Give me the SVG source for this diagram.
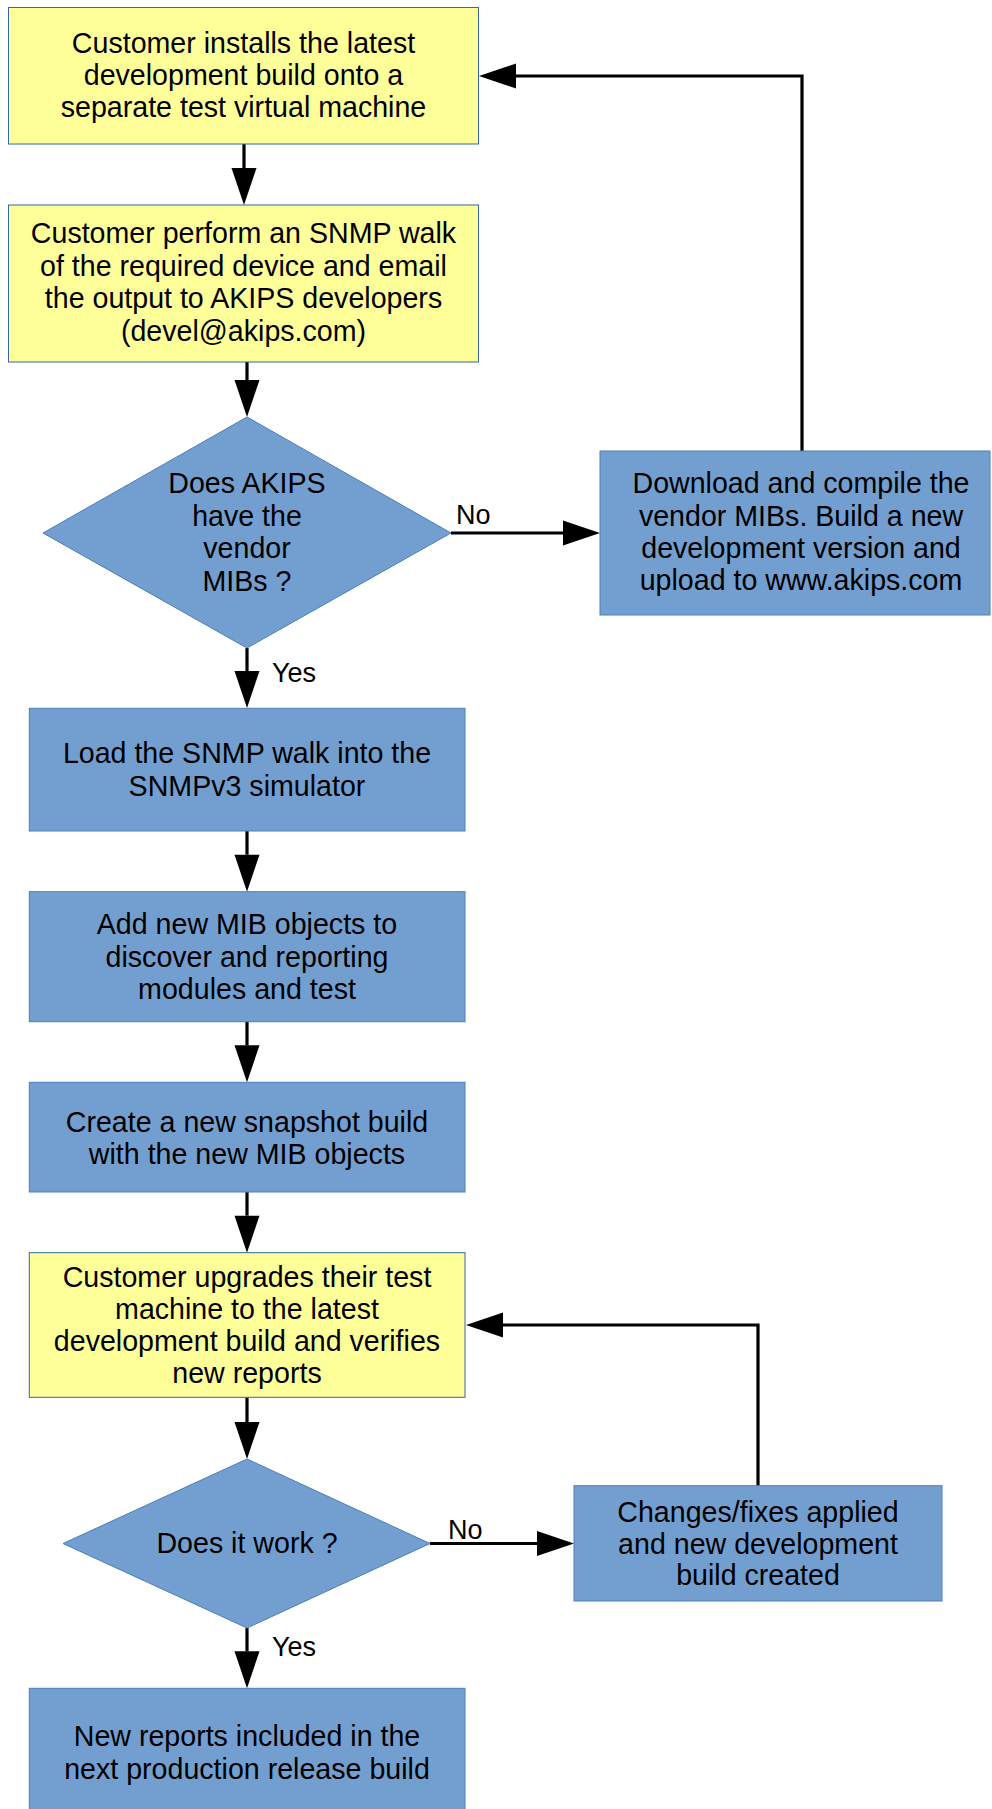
<svg xmlns="http://www.w3.org/2000/svg" width="992" height="1809" viewBox="0 0 992 1809">
<style>
.y{fill:#ffff99;stroke:#3465a4;stroke-width:1}
.b{fill:#729fcf;stroke:#4a7ebb;stroke-width:1}
.t{font-family:"Liberation Sans",Arial,sans-serif;font-size:28.6px;fill:#000;text-anchor:middle}
.l{font-family:"Liberation Sans",Arial,sans-serif;font-size:27px;fill:#000}
.c{fill:none;stroke:#000;stroke-width:3.2;marker-end:url(#ah)}
</style>
<defs>
<marker id="ah" markerUnits="userSpaceOnUse" markerWidth="38" markerHeight="26" refX="0" refY="12.5" orient="auto" overflow="visible">
<path d="M0,0 L37,12.5 L0,25 z" fill="#000"/>
</marker>
</defs>
<rect width="992" height="1809" fill="#fff"/>
<g id="connectors">
<path class="c" d="M244,144 V168"/>
<path class="c" d="M247,362 V380"/>
<path class="c" d="M247,648 V671"/>
<path class="c" d="M451,533 H563"/>
<path class="c" d="M802,451 V76 H516"/>
<path class="c" d="M247,831 V854.7"/>
<path class="c" d="M247,1021.7 V1045.3"/>
<path class="c" d="M247,1192 V1215.7"/>
<path class="c" d="M247,1397.3 V1422"/>
<path class="c" d="M430,1543.5 H537"/>
<path class="c" d="M758,1485.7 V1325 H503"/>
<path class="c" d="M247,1628 V1651.3"/>
<text class="l" x="456" y="524">No</text>
<text class="l" x="272" y="682">Yes</text>
<text class="l" x="448" y="1539">No</text>
<text class="l" x="272" y="1656">Yes</text>
</g>
<g id="n1">
<rect class="y" x="8.5" y="7.5" width="470" height="136.5"/>
<text class="t"><tspan x="243.5" y="53">Customer installs the latest</tspan><tspan x="243.5" y="85">development build onto a</tspan><tspan x="243.5" y="117">separate test virtual machine</tspan></text>
</g>
<g id="n2">
<rect class="y" x="8.5" y="205" width="470" height="157"/>
<text class="t"><tspan x="243.5" y="243">Customer perform an SNMP walk</tspan><tspan x="243.5" y="276">of the required device and email</tspan><tspan x="243.5" y="308">the output to AKIPS developers</tspan><tspan x="243.5" y="341">(devel@akips.com)</tspan></text>
</g>
<g id="d1">
<polygon class="b" points="247,417 451,533 247,648 43,533"/>
<text class="t"><tspan x="247" y="493">Does AKIPS</tspan><tspan x="247" y="526">have the</tspan><tspan x="247" y="558">vendor</tspan><tspan x="247" y="591">MIBs ?</tspan></text>
</g>
<g id="n3">
<rect class="b" x="600" y="451" width="390" height="164"/>
<text class="t"><tspan x="801" y="493">Download and compile the</tspan><tspan x="801" y="526">vendor MIBs. Build a new</tspan><tspan x="801" y="558">development version and</tspan><tspan x="801" y="590">upload to www.akips.com</tspan></text>
</g>
<g id="n4">
<rect class="b" x="29.3" y="708.3" width="435.7" height="122.7"/>
<text class="t"><tspan x="247" y="763">Load the SNMP walk into the</tspan><tspan x="247" y="796">SNMPv3 simulator</tspan></text>
</g>
<g id="n5">
<rect class="b" x="29.3" y="891.7" width="435.7" height="130"/>
<text class="t"><tspan x="247" y="934">Add new MIB objects to</tspan><tspan x="247" y="966.5">discover and reporting</tspan><tspan x="247" y="999">modules and test</tspan></text>
</g>
<g id="n6">
<rect class="b" x="29.3" y="1082.3" width="435.7" height="109.7"/>
<text class="t"><tspan x="247" y="1131.5">Create a new snapshot build</tspan><tspan x="247" y="1163.5">with the new MIB objects</tspan></text>
</g>
<g id="n7">
<rect class="y" x="29.3" y="1252.7" width="435.7" height="144.6"/>
<text class="t"><tspan x="247" y="1286.5">Customer upgrades their test</tspan><tspan x="247" y="1318.5">machine to the latest</tspan><tspan x="247" y="1350.5">development build and verifies</tspan><tspan x="247" y="1382.5">new reports</tspan></text>
</g>
<g id="d2">
<polygon class="b" points="247,1459 430,1543.5 247,1628 63,1543.5"/>
<text class="t" x="247" y="1552.5">Does it work ?</text>
</g>
<g id="n8">
<rect class="b" x="574" y="1485.7" width="368" height="115.3"/>
<text class="t"><tspan x="758" y="1521.5">Changes/fixes applied</tspan><tspan x="758" y="1553.5">and new development</tspan><tspan x="758" y="1585">build created</tspan></text>
</g>
<g id="n9">
<rect class="b" x="29.3" y="1688.3" width="435.7" height="130"/>
<text class="t"><tspan x="247" y="1745.5">New reports included in the</tspan><tspan x="247" y="1779">next production release build</tspan></text>
</g>
</svg>
